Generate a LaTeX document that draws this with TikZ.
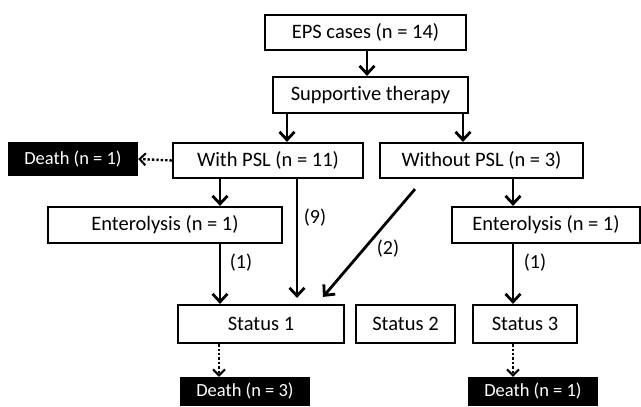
\documentclass[tikz,border=0pt]{standalone}
\usepackage{fontspec}
\setmainfont[Ligatures=NoCommon]{Carlito}
\usetikzlibrary{arrows.meta,calc}
\begin{document}
\begin{tikzpicture}[x=1pt,y=-1pt,
  box/.style={draw=black,line width=2.2pt,fill=white,rectangle,inner sep=0pt,font=\fontsize{20.5}{22}\selectfont},
  dbox/.style={fill=black,rectangle,inner sep=0pt,text=white,font=\fontsize{18.5}{20}\selectfont},
  arr/.style={line width=2.8pt,-{Straight Barb[length=8pt,width=15pt,line width=2.8pt]}},
  darr/.style={line width=2.4pt,dotted,-{Straight Barb[length=6pt,width=12pt,line width=2pt]}},
  lbl/.style={font=\fontsize{20}{22}\selectfont,inner sep=0pt}]
\useasboundingbox (0,0) rectangle (641,407);
\node[box,minimum width=201pt,minimum height=35pt] (eps) at (365.5,32.5) {EPS cases (n = 14)};
\node[box,minimum width=195pt,minimum height=36pt] (sup) at (370.5,95) {Supportive therapy};
\node[box,minimum width=190pt,minimum height=35pt] (with) at (268,160.5) {With PSL (n = 11)};
\node[box,minimum width=203pt,minimum height=35pt] (without) at (481.5,160.5) {Without PSL (n = 3)};
\node[dbox,minimum width=130pt,minimum height=34pt] (death1) at (73,159) {Death (n = 1)};
\node[box,minimum width=234pt,minimum height=36pt] (ent1) at (165,225) {Enterolysis (n = 1)};
\node[box,minimum width=188pt,minimum height=36pt] (ent2) at (546,225) {Enterolysis (n = 1)};
\node[box,minimum width=166pt,minimum height=38pt] (s1) at (261,324) {Status 1};
\node[box,minimum width=99pt,minimum height=38pt] (s2) at (405.5,324) {Status 2};
\node[box,minimum width=104pt,minimum height=38pt] (s3) at (525,324) {Status 3};
\node[dbox,minimum width=130pt,minimum height=29pt] (d3) at (245,391.5) {Death (n = 3)};
\node[dbox,minimum width=130pt,minimum height=29pt] (d4) at (533,391.5) {Death (n = 1)};
\draw[arr] ($(eps.south)+(1.5,0)$) -- ($(eps.south |- sup.north)+(1.5,0)$);
\draw[arr] (sup.south -| 287,0) -- (with.north -| 287,0);
\draw[arr] (sup.south -| 463,0) -- (without.north -| 463,0);
\draw[darr] (with.west) -- (death1.east);
\draw[arr] (with.south -| 220,0) -- (ent1.north -| 220,0);
\draw[arr] (with.south -| 297,0) -- ([yshift=6pt]s1.north -| 297,0);
\draw[arr] ([yshift=-10pt]without.south -| 415,0) -- ([yshift=7pt]s1.north -| 323,0);
\draw[arr] (ent1.south -| 220,0) -- (s1.north -| 220,0);
\draw[arr] (without.south -| 513,0) -- (ent2.north -| 513,0);
\draw[arr] (ent2.south -| 513,0) -- (s3.north -| 513,0);
\draw[darr] (s1.south -| 219,0) -- (d3.north -| 219,0);
\draw[darr] (s3.south -| 513,0) -- (d4.north -| 513,0);
\node[lbl] (l9) at (315,218) {(9)};
\node[lbl] (l2) at (388,249) {(2)};
\node[lbl] (l1a) at (241,263) {(1)};
\node[lbl] (l1b) at (535,263) {(1)};
\end{tikzpicture}
\end{document}
